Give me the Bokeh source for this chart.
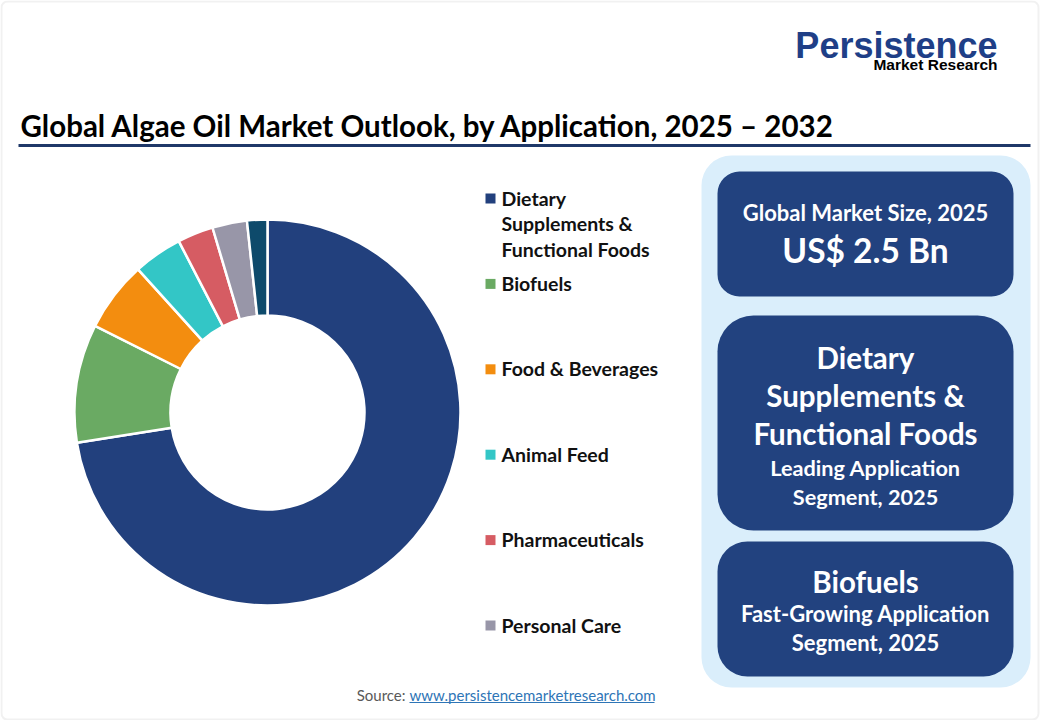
import math
from bokeh.plotting import figure
from bokeh.models import Range1d, BoxAnnotation, Label, ColumnDataSource
from bokeh.core.properties import value
from bokeh.embed import file_html
from bokeh.resources import INLINE

# ---- data ----
categories = ["Dietary Supplements & Functional Foods", "Biofuels", "Food & Beverages",
              "Animal Feed", "Pharmaceuticals", "Personal Care", "Others"]
legend_labels = ["Dietary\nSupplements &\nFunctional Foods", "Biofuels", "Food & Beverages",
                 "Animal Feed", "Pharmaceuticals", "Personal Care"]
shares = [72.5, 9.9, 5.9, 4.1, 3.0, 2.9, 1.7]
colors = ["#22407D", "#6AAA63", "#F38D0F", "#33C6C6", "#D65C63", "#9896A8", "#0E4A6B"]

title = "Global Algae Oil Market Outlook, by Application, 2025 \u2013 2032"
FONT = "Lato"
NAVY = "#22427F"

W, H = 1040, 720
p = figure(width=W, height=H, output_backend="svg", toolbar_location=None,
           x_range=Range1d(0, 1040), y_range=Range1d(0, 720),
           x_axis_location=None, y_axis_location=None, min_border=0)
p.outline_line_color = None
p.grid.visible = False
p.background_fill_color = "white"
p.border_fill_color = "white"


def Y(v):
    return 720 - v


# ---- outer frame ----
p.add_layout(BoxAnnotation(left=1, right=1038, top=Y(1), bottom=Y(719),
                           fill_alpha=0, line_color="#D0D0D0", line_width=2,
                           border_radius=6))

# ---- donut ----
total = sum(shares)
starts, ends = [], []
acc = 0.0
for s in shares:
    starts.append(math.pi / 2 - 2 * math.pi * acc / total)
    acc += s
    ends.append(math.pi / 2 - 2 * math.pi * acc / total)
src = ColumnDataSource(dict(cat=categories, share=shares, color=colors,
                            start=starts, end=ends))
p.annular_wedge(x=267, y=Y(412), inner_radius=97, outer_radius=193,
                start_angle="start", end_angle="end", direction="clock",
                fill_color="color", line_color="white", line_width=2.5, source=src)

# ---- legend ----
leg_y = [Y(198 + i * 85.4) for i in range(len(legend_labels))]
leg_src = ColumnDataSource(dict(x=[490] * len(legend_labels), y=leg_y,
                                tx=[501] * len(legend_labels),
                                ty=[v + 12 for v in leg_y],
                                label=legend_labels, color=colors[:len(legend_labels)]))
p.scatter(x="x", y="y", marker="square", size=10, fill_color="color",
          line_color=None, source=leg_src)
p.text(x="tx", y="ty", text="label", source=leg_src, text_font=value(FONT),
       text_font_style="bold", text_font_size="19.5px", text_color="#111111",
       text_baseline="top", text_align="left", text_line_height=1.13)

# ---- title ----
p.add_layout(Label(x=20, y=Y(125), text=title, text_font=FONT, text_font_style="bold",
                   text_font_size="29.5px", text_color="#000000",
                   text_baseline="middle", text_align="left"))
p.segment(x0=18, y0=Y(145), x1=1030, y1=Y(145), line_color="#1F3868", line_width=3)

# ---- logo ----
p.add_layout(Label(x=997, y=Y(45), text="Persistence", text_font="Liberation Sans",
                   text_font_style="bold", text_font_size="36px", text_color="#1F3F87",
                   text_baseline="middle", text_align="right"))
p.add_layout(Label(x=997, y=Y(64), text="Market Research", text_font="Liberation Sans",
                   text_font_style="bold", text_font_size="15.5px", text_color="#000000",
                   text_baseline="middle", text_align="right"))

# ---- right panel ----
p.add_layout(BoxAnnotation(left=701, right=1030, top=Y(155), bottom=Y(687),
                           fill_color="#DAEEFB", fill_alpha=1, line_color=None,
                           border_radius=30))
boxes = [(171, 296, 22), (315, 530, 36), (541, 676, 30)]
for t, b, r in boxes:
    p.add_layout(BoxAnnotation(left=717, right=1013, top=Y(t), bottom=Y(b),
                               fill_color=NAVY, fill_alpha=1, line_color=None,
                               border_radius=r))

box_texts = [
    ("Global Market Size, 2025", 212, "22px"),
    ("US$ 2.5 Bn", 249, "33.5px"),
    ("Dietary", 357, "29.5px"),
    ("Supplements &", 395, "29.5px"),
    ("Functional Foods", 433, "29.5px"),
    ("Leading Application", 467, "21.7px"),
    ("Segment, 2025", 496, "21.7px"),
    ("Biofuels", 581, "29.5px"),
    ("Fast-Growing Application", 613, "22px"),
    ("Segment, 2025", 642, "22px"),
]
for txt, yy, fs in box_texts:
    p.add_layout(Label(x=865, y=Y(yy), text=txt, text_font=FONT, text_font_style="bold",
                       text_font_size=fs, text_color="white",
                       text_baseline="middle", text_align="center"))

# ---- source ----
p.add_layout(Label(x=405, y=Y(694), text="Source:", text_font=FONT,
                   text_font_size="15px", text_color="#595959",
                   text_baseline="middle", text_align="right"))
p.add_layout(Label(x=409, y=Y(694), text="www.persistencemarketresearch.com", text_font=FONT,
                   text_font_size="15px", text_color="#2E75B6",
                   text_baseline="middle", text_align="left"))
p.segment(x0=409, y0=Y(702), x1=654, y1=Y(702), line_color="#2E75B6", line_width=1)

open("out.html", "w").write(file_html(p, INLINE))
